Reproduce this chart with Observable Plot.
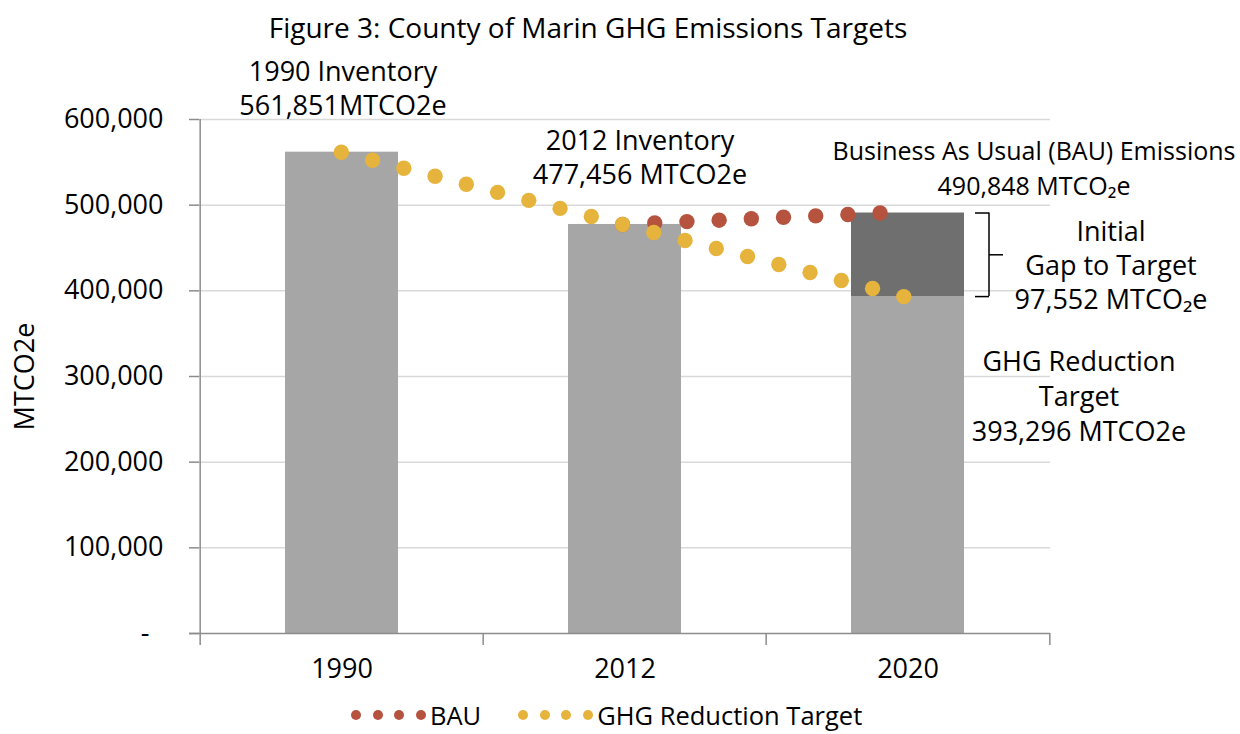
<!DOCTYPE html>
<html><head><meta charset="utf-8">
<script src="https://cdn.jsdelivr.net/npm/d3@7"></script>
<script src="https://cdn.jsdelivr.net/npm/@observablehq/plot@0.6"></script>
<style>
body{margin:0;background:#fff;font-family:'Open Sans',sans-serif;}
#wrap{position:relative;width:1240px;height:734px;background:#fff;}
#title{position:absolute;left:0;top:8px;width:1176px;text-align:center;font-size:28px;line-height:38px;color:#000;}
#base,#over{position:absolute;left:0;top:52px;}
#legend{position:absolute;top:702px;left:351px;height:26px;line-height:26px;display:flex;align-items:center;font-size:25.5px;color:#000;white-space:nowrap;}
.dot{display:inline-block;width:10px;height:10px;border-radius:50%;margin-right:11.5px;}
.lab{margin-left:-7px;}
</style></head>
<body><div id="wrap"><div id="title">Figure 3: County of Marin GHG Emissions Targets</div><div id="base"></div><div id="over"></div><div id="legend"></div></div>
<script>
// ---- data ----
const categories = ["1990", "2012", "2020"];
const inventoryValues = [561851, 477456, 393296];
const bauTotal = 490848;
const reductionTarget = 393296;
const yTicks = [0, 100000, 200000, 300000, 400000, 500000, 600000];

const targetSteps = [0, 1, 2, 3, 4, 5, 6, 7, 8, 9, 10, 11, 12, 13, 14, 15, 16, 17, 18];
const targetValues = [561851, 552474, 543097, 533720, 524343, 514966, 505589, 496212, 486835, 477456,
                      468105, 458754, 449403, 440052, 430701, 421350, 411999, 402648, 393296];
const bauSteps = [9, 10.03, 11.06, 12.09, 13.12, 14.15, 15.18, 16.21, 17.24];
const bauValues = [477456, 479130, 480800, 482480, 484150, 485830, 487500, 489170, 490848];

const seriesNames = ["BAU", "GHG Reduction Target"];
const annotationText = [
  "1990 Inventory\n561,851MTCO2e",
  "2012 Inventory\n477,456 MTCO2e",
  "Business As Usual (BAU) Emissions\n490,848 MTCO\u2082e",
  "Initial\nGap to Target\n97,552 MTCO\u2082e",
  "GHG Reduction\nTarget\n393,296 MTCO2e"
];
const yTitle = "MTCO2e";

// ---- tables ----
const bars = categories.map((c, i) => ({year: c, value: inventoryValues[i]}));
const gap = [{year: categories[2], low: reductionTarget, high: bauTotal}];
const targetSeries = targetSteps.map((s, i) => ({step: s, value: targetValues[i]}));
const bauSeries = bauSteps.map((s, i) => ({step: s, value: bauValues[i]}));

const colors = {bar: "#a6a6a6", gap: "#6f6f6f", bau: "#b5533f", target: "#e6b43c", axis: "#8c8c8c", grid: "#d9d9d9"};
const W = 1240, H = 640, ML = 199, MR = 190, MT = 67, MB = 59;
const half = (W - ML - MR) / 6;
const fs = 27;
const fmt = d3.format(",");

const base = Plot.plot({
  width: W, height: H,
  marginLeft: ML, marginRight: MR, marginTop: MT, marginBottom: MB,
  style: {fontFamily: "'Open Sans', sans-serif", fontSize: fs + "px", background: "white", overflow: "hidden", color: "black"},
  x: {type: "band", domain: categories, paddingInner: 0.6, paddingOuter: 0.3, label: null, axis: null},
  y: {domain: [0, 600000], label: null, axis: null},
  marks: [
    Plot.ruleY(yTicks.filter(d => d > 0), {stroke: colors.grid, strokeWidth: 1.5}),
    Plot.barY(bars, {x: "year", y: "value", fill: colors.bar}),
    Plot.barY(gap, {x: "year", y1: "low", y2: "high", fill: colors.gap}),
    Plot.ruleY([0], {stroke: colors.axis, strokeWidth: 1.5, insetLeft: -10}),
    Plot.ruleX([categories[0]], {y1: 0, y2: 600000, dx: -half, stroke: colors.axis, strokeWidth: 1.5}),
    Plot.axisY({ticks: yTicks, tickSize: 10, tickPadding: 26, stroke: colors.axis, strokeWidth: 1.5, fill: "black", fontSize: fs, label: null,
      tickFormat: d => d === 0 ? "-\u00a0\u00a0" : fmt(d)}),
    Plot.axisX({tickSize: 0, tickPadding: 25, fill: "black", fontSize: fs, label: null}),
    Plot.axisX({tickSize: 12, tickFormat: () => "", dx: -half, stroke: colors.axis, strokeWidth: 1.5, label: null}),
    Plot.axisX({ticks: [categories[2]], tickSize: 12, tickFormat: () => "", dx: half, stroke: colors.axis, strokeWidth: 1.5, label: null}),
    Plot.text([yTitle], {frameAnchor: "left", text: d => d, dx: -174, rotate: -90, textAnchor: "middle", fontSize: fs, fill: "black"}),
    // annotations
    Plot.text([bars[0]], {x: "year", y: "value", text: () => annotationText[0], dy: -65, dx: 1, lineHeight: 1.26, fontSize: fs, fill: "black"}),
    Plot.text([bars[1]], {x: "year", y: "value", text: () => annotationText[1], dy: -68, dx: 15, lineHeight: 1.26, fontSize: fs, fill: "black"}),
    Plot.text(gap, {x: "year", y: "high", text: () => annotationText[2], dy: -47, dx: 126, lineHeight: 1.4, fontSize: 25, fill: "black"}),
    Plot.text(gap, {x: "year", y: "high", text: () => annotationText[3], dy: 51, dx: 203, lineHeight: 1.26, fontSize: fs, fill: "black"}),
    Plot.text(gap, {x: "year", y: "low", text: () => annotationText[4], dy: 98, dx: 171, lineHeight: 1.3, fontSize: fs, fill: "black"}),
    // brace
    Plot.ruleX(gap, {x: "year", y1: "low", y2: "high", dx: 81, stroke: "black", strokeWidth: 1.5}),
    Plot.ruleY(gap, {y: "high", insetLeft: 776, insetRight: 61, stroke: "black", strokeWidth: 1.5}),
    Plot.ruleY(gap, {y: "low", insetLeft: 776, insetRight: 61, stroke: "black", strokeWidth: 1.5}),
    Plot.ruleY(gap, {y: d => (d.low + d.high) / 2, insetLeft: 790, insetRight: 47, stroke: "black", strokeWidth: 1.5})
  ]
});
document.getElementById("base").appendChild(base);

const over = Plot.plot({
  width: W, height: H,
  marginLeft: ML, marginRight: MR, marginTop: MT, marginBottom: MB,
  style: {background: "transparent", overflow: "visible"},
  x: {domain: [-4.538, 22.694], axis: null},
  y: {domain: [0, 600000], axis: null},
  marks: [
    Plot.dot(bauSeries, {x: "step", y: "value", r: 7.7, fill: colors.bau}),
    Plot.dot(targetSeries, {x: "step", y: "value", r: 7.7, fill: colors.target})
  ]
});
document.getElementById("over").appendChild(over);

// legend
const legend = document.getElementById("legend");
[[seriesNames[0], colors.bau], [seriesNames[1], colors.target]].forEach(([name, c], k) => {
  const item = document.createElement("span");
  item.style.display = "flex"; item.style.alignItems = "center";
  if (k > 0) item.style.marginLeft = "37px";
  for (let j = 0; j < 4; j++) {
    const d = document.createElement("span");
    d.className = "dot"; d.style.background = c;
    item.appendChild(d);
  }
  const t = document.createElement("span");
  t.className = "lab"; t.textContent = name;
  item.appendChild(t);
  legend.appendChild(item);
});
</script>
</body></html>
